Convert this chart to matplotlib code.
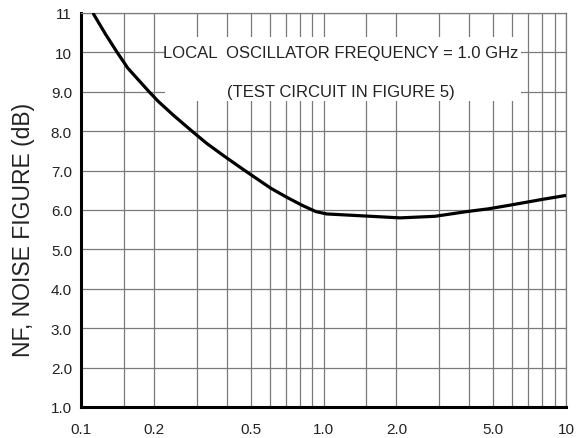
import matplotlib
matplotlib.use("Agg")
import matplotlib.pyplot as plt
from matplotlib.patches import Rectangle
from matplotlib.ticker import FixedLocator, FixedFormatter, NullFormatter

# noise figure vs LO frequency
freq_ghz = [0.112, 0.126, 0.141, 0.156, 0.191, 0.208, 0.24, 0.287, 0.33, 0.389,
            0.474, 0.607, 0.707, 0.822, 0.93, 1.03, 1.57, 2.07, 2.88, 3.9,
            4.79, 5.84, 8.0, 10.0]
nf_db = [11.0, 10.47, 10.0, 9.6, 9.0, 8.76, 8.41, 8.0, 7.69, 7.37,
         7.0, 6.55, 6.32, 6.11, 5.96, 5.90, 5.84, 5.80, 5.84, 5.96,
         6.03, 6.12, 6.27, 6.37]

x_major = [0.1, 0.2, 0.5, 1.0, 2.0, 5.0, 10.0]
x_labels = ["0.1", "0.2", "0.5", "1.0", "2.0", "5.0", "10"]
x_minor = [0.15, 0.3, 0.4, 0.6, 0.7, 0.8, 0.9, 1.5, 3.0, 4.0, 6.0, 7.0, 8.0, 9.0]
y_ticks = [1, 2, 3, 4, 5, 6, 7, 8, 9, 10, 11]
y_labels = ["1.0", "2.0", "3.0", "4.0", "5.0", "6.0", "7.0", "8.0", "9.0", "10", "11"]

NARROW = ["Liberation Sans Narrow", "Liberation Sans", "DejaVu Sans"]
REGULAR = ["Liberation Sans", "DejaVu Sans"]
GRID = "#7a7a7a"
INK = "#222222"

fig = plt.figure(figsize=(5.77, 4.39), dpi=100)
ax = fig.add_axes([81 / 577, 1 - 408 / 439, 485 / 577, 394 / 439])

ax.plot(freq_ghz, nf_db, color="black", lw=2.3, solid_joinstyle="round",
        solid_capstyle="butt", zorder=4)

ax.set_xscale("log")
ax.set_xlim(0.1, 10)
ax.set_ylim(1, 11)

ax.xaxis.set_major_locator(FixedLocator(x_major))
ax.xaxis.set_major_formatter(FixedFormatter(x_labels))
ax.xaxis.set_minor_locator(FixedLocator(x_minor))
ax.xaxis.set_minor_formatter(NullFormatter())
ax.yaxis.set_major_locator(FixedLocator(y_ticks))
ax.yaxis.set_major_formatter(FixedFormatter(y_labels))

ax.set_axisbelow(True)
ax.grid(which="both", color=GRID, lw=0.9)
ax.tick_params(which="both", length=0)
ax.tick_params(axis="x", pad=10.5)
ax.tick_params(axis="y", pad=6.5)
for lab in ax.get_xticklabels() + ax.get_yticklabels():
    lab.set_family(NARROW)
    lab.set_fontsize(11)
    lab.set_color(INK)

for side in ["left", "bottom"]:
    ax.spines[side].set_color("black")
    ax.spines[side].set_linewidth(2.2)
for side in ["top", "right"]:
    ax.spines[side].set_color(GRID)
    ax.spines[side].set_linewidth(0.9)

# white box behind the annotation
ax.add_patch(Rectangle((0.173, 0.777), 0.734, 0.162, transform=ax.transAxes,
                       facecolor="white", edgecolor="none", zorder=1))
ax.text(0.536, 10.0, "LOCAL  OSCILLATOR FREQUENCY = 1.0 GHz", transform=ax.get_yaxis_transform(),
        ha="center", va="center", family=NARROW, fontsize=12, color=INK, zorder=3)
ax.text(0.536, 9.0, "(TEST CIRCUIT IN FIGURE 5)", transform=ax.get_yaxis_transform(),
        ha="center", va="center", family=NARROW, fontsize=12, color=INK, zorder=3)

fig.text(24 / 577, 1 - 230 / 439, "NF, NOISE FIGURE (dB)", rotation=90,
         ha="center", va="center", family=REGULAR, fontsize=16.5, color=INK)

fig.savefig("out.png", dpi=100)
